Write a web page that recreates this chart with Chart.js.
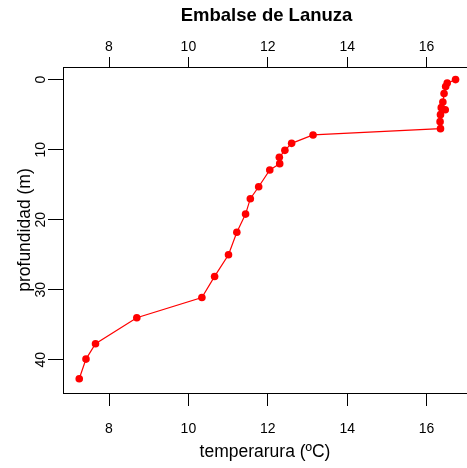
<!DOCTYPE html>
<html>
<head>
<meta charset="utf-8">
<title>Embalse de Lanuza</title>
<script src="https://cdn.jsdelivr.net/npm/chart.js@4.4.0/dist/chart.umd.min.js"></script>
<style>
  html, body { margin: 0; padding: 0; background: #fff; }
  canvas { display: block; }
</style>
</head>
<body>
<canvas id="perfil" width="467" height="468"></canvas>
<script>
// perfil de temperatura
const profundidad = [0, 0.5, 1, 2, 3.2, 4, 4.3, 5, 6, 7, 7.9, 9.1, 10.1, 11.1, 12, 12.9, 15.3, 17, 19.2, 21.8, 25, 28.1, 31.1, 34, 37.7, 39.9, 42.7];
const temperatura = [16.73, 16.52, 16.48, 16.44, 16.41, 16.37, 16.47, 16.35, 16.34, 16.35, 13.14, 12.60, 12.43, 12.29, 12.30, 12.05, 11.77, 11.56, 11.44, 11.22, 11.01, 10.66, 10.34, 8.70, 7.66, 7.42, 7.25];
const xTicks = [8, 10, 12, 14, 16];
const yTicks = [0, 10, 20, 30, 40];

const fuente = "'Liberation Sans', Arial, sans-serif";
Chart.defaults.color = '#000';
Chart.defaults.font.family = fuente;

var puntos = [];
for (let i = 0; i < profundidad.length; i++) {
    puntos.push({ x: temperatura[i], y: profundidad[i] });
}

function ticksFijos(lista) {
    return function (scale) {
        scale.ticks = lista.map(v => ({ value: v }));
    };
}

// fija el alto del eje horizontal y quita el margen lateral que añade Chart.js
function altoFijo(alto) {
    return function (scale) {
        scale.height = alto;
        scale.paddingLeft = 0;
        scale.paddingRight = 0;
    };
}

const marco = {
    id: 'marco',
    afterDraw(chart) {
        const ctx = chart.ctx;
        const area = chart.chartArea;
        ctx.save();
        ctx.strokeStyle = '#000';
        ctx.lineWidth = 1;
        ctx.strokeRect(Math.round(area.left) + 0.5, Math.round(area.top) + 0.5,
            Math.round(area.right - area.left), Math.round(area.bottom - area.top));

        // etiquetas del eje y, giradas como en R
        const y = chart.scales.y;
        ctx.font = '14px ' + fuente;
        ctx.fillStyle = '#000';
        ctx.textAlign = 'center';
        ctx.textBaseline = 'middle';
        y.ticks.forEach(t => {
            ctx.save();
            ctx.translate(41.5, y.getPixelForValue(t.value));
            ctx.rotate(-Math.PI / 2);
            ctx.fillText(String(t.value), 0, 0);
            ctx.restore();
        });

        // titulo principal, centrado sobre la region del grafico de R
        ctx.font = 'bold 18.5px ' + fuente;
        ctx.fillText('Embalse de Lanuza', 266.5, 16);
        ctx.restore();
    }
};

new Chart(document.getElementById('perfil'), {
    type: 'scatter',
    data: {
        datasets: [{
            data: puntos,
            showLine: true,
            borderColor: '#ff0000',
            backgroundColor: '#ff0000',
            borderWidth: 1.2,
            pointRadius: 3.8,
            pointBorderWidth: 0,
            pointHoverRadius: 3.8
        }]
    },
    options: {
        responsive: false,
        animation: false,
        layout: { padding: 0, autoPadding: false },
        plugins: {
            legend: { display: false },
            tooltip: { enabled: false },
            title: { display: false }
        },
        scales: {
            x: {
                type: 'linear',
                position: 'bottom',
                min: 6.841,
                max: 17.018,
                afterBuildTicks: ticksFijos(xTicks),
                afterFit: altoFijo(75),
                grid: { drawOnChartArea: false, drawTicks: true, tickLength: 13, color: '#000', tickColor: '#000' },
                border: { display: false },
                ticks: { font: { size: 14 }, padding: 15, maxRotation: 0 },
                title: {
                    display: true,
                    text: 'temperarura (ºC)',
                    font: { size: 17.5 },
                    padding: { top: 0, bottom: 5 }
                }
            },
            x2: {
                type: 'linear',
                position: 'top',
                min: 6.841,
                max: 17.018,
                afterBuildTicks: ticksFijos(xTicks),
                afterFit: altoFijo(67),
                grid: { drawOnChartArea: false, drawTicks: true, tickLength: 10, color: '#000', tickColor: '#000' },
                border: { display: false },
                ticks: { font: { size: 14 }, padding: 1.6, maxRotation: 0 }
            },
            y: {
                type: 'linear',
                position: 'left',
                reverse: true,
                min: -1.8,
                max: 44.74,
                afterBuildTicks: ticksFijos(yTicks),
                afterFit: function (scale) {
                    scale.width = 63;
                    scale.paddingTop = 0;
                    scale.paddingBottom = 0;
                },
                grid: { drawOnChartArea: false, drawTicks: true, tickLength: 15, color: '#000', tickColor: '#000' },
                border: { display: false },
                ticks: { display: false },
                title: {
                    display: true,
                    text: 'profundidad (m)',
                    font: { size: 17.5 },
                    padding: { top: 15, bottom: 0 }
                }
            }
        }
    },
    plugins: [marco]
});
</script>
</body>
</html>
